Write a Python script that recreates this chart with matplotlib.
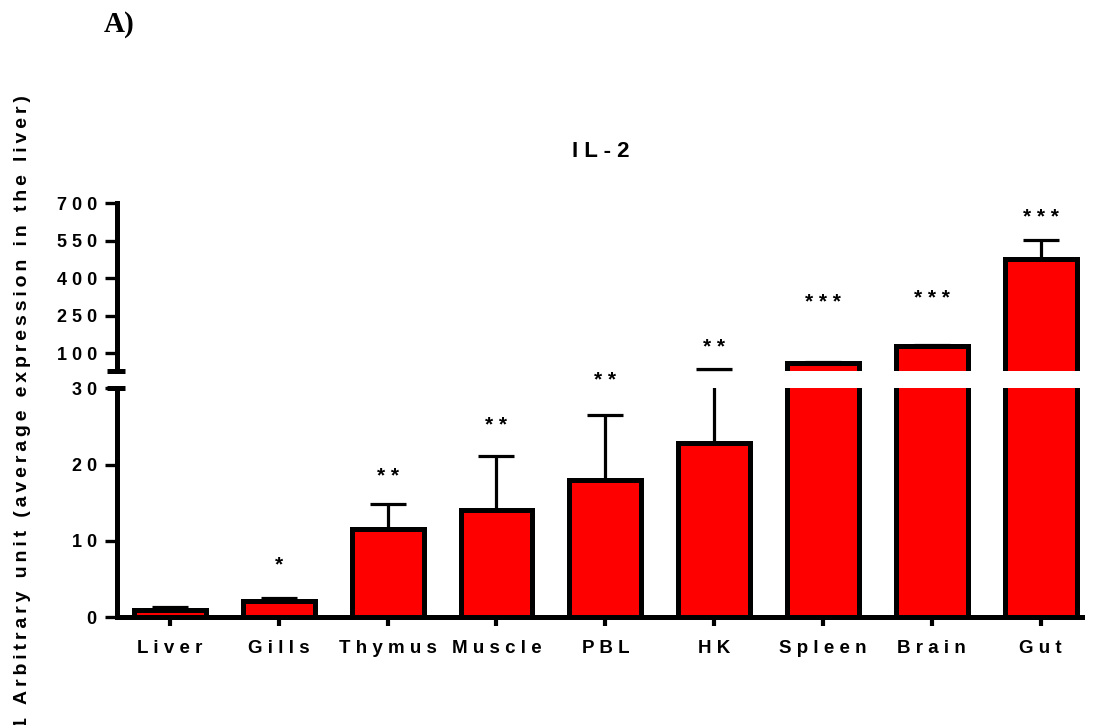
import numpy as np
import matplotlib.pyplot as plt

plt.rcParams['font.family'] = ['Liberation Sans', 'DejaVu Sans']
plt.rcParams['font.weight'] = 'bold'

# data (relative expression, IL-2)
tissues = ['Liver', 'Gills', 'Thymus', 'Muscle', 'PBL', 'HK', 'Spleen', 'Brain', 'Gut']
mean_expr = [1.0, 2.1, 11.6, 14.0, 18.0, 22.8, 63.0, 131.0, 475.0]
err_up = [0.4, 0.5, 3.2, 7.1, 8.5, 14.2, 2.0, 3.0, 78.0]
stars = ['', '*', '**', '**', '**', '**', '***', '***', '***']
star_y = [0, 7.8, 19.4, 26.0, 31.9, 150, 331, 347, 668]   # where the asterisks sit

low_ticks = [0, 10, 20, 30]
high_ticks = [100, 250, 400, 550, 700]
brk = 30   # axis break value


def spaced(s, sep=' '):
    return sep.join(s)


x = np.arange(len(tissues))
mean_arr = np.array(mean_expr)
err_arr = np.array(err_up)
lw = 3.6

fig = plt.figure(figsize=(10.95, 7.25), dpi=100)
ax_hi = fig.add_axes([0.1068, 0.4883, 0.881, 0.2317])
ax_lo = fig.add_axes([0.1068, 0.1483, 0.881, 0.3165])

for ax in (ax_lo, ax_hi):
    ax.bar(x, mean_expr, width=0.66, color='#ff0000', edgecolor='black',
           linewidth=lw, zorder=3)
    ax.set_xlim(-0.487, 8.376)
    ax.spines['top'].set_visible(False)
    ax.spines['right'].set_visible(False)
    ax.spines['left'].set_linewidth(lw)
    ax.spines['bottom'].set_linewidth(lw)
    ax.tick_params(axis='y', direction='out', length=8.5, width=2.4, pad=6, labelsize=13)

# error bars (upper side only), each drawn in the panel(s) where it is visible
lo = mean_arr < brk
hi = mean_arr + err_arr > brk
ax_lo.errorbar(x[lo], mean_arr[lo], yerr=[np.zeros(lo.sum()), err_arr[lo]], fmt='none',
               ecolor='black', elinewidth=2.3, capsize=13, capthick=2.3, zorder=2)
ax_hi.errorbar(x[hi], mean_arr[hi], yerr=[np.zeros(hi.sum()), err_arr[hi]], fmt='none',
               ecolor='black', elinewidth=2.3, capsize=13, capthick=2.3, zorder=2)

ax_lo.set_ylim(0, brk)
ax_lo.set_yticks(low_ticks)
ax_lo.set_yticklabels([spaced(str(t)) for t in low_ticks])
ax_lo.set_xticks(x)
ax_lo.set_xticklabels([spaced(t) for t in tissues], fontsize=13.5)
ax_lo.tick_params(axis='x', direction='out', length=6.5, width=3, pad=10)

ax_hi.set_ylim(brk, 700)
ax_hi.set_yticks(high_ticks)
ax_hi.set_yticklabels([spaced(str(t)) for t in high_ticks])
ax_hi.spines['bottom'].set_visible(False)
ax_hi.set_xticks([])

# break marks on the y axis
ax_hi.plot([-0.0104, 0.0083], [0, 0], color='black', lw=lw, transform=ax_hi.transAxes,
           clip_on=False, solid_capstyle='butt')
ax_lo.plot([-0.0104, 0.0083], [1, 1], color='black', lw=lw, transform=ax_lo.transAxes,
           clip_on=False, solid_capstyle='butt')

for xi, s, sy in zip(x, stars, star_y):
    if not s:
        continue
    ax = ax_lo if sy <= 35 else ax_hi
    ax.annotate(spaced(s), (xi, sy), xytext=(0, -5), textcoords='offset points',
                ha='center', va='center', fontsize=15, fontweight='bold',
                annotation_clip=False)

fig.text(0.549, 0.791, spaced('IL-2'), ha='center', va='center', fontsize=16,
         fontweight='bold')
fig.text(0.021, 1 - 95 / 725,
         spaced('1 Arbitrary unit (average expression in the liver)', '\u2009'),
         rotation=90, ha='center', va='top', fontsize=14, fontweight='bold')
fig.text(0.095, 0.966, 'A)', ha='left', va='center', fontsize=21, fontweight='bold',
         family=['Liberation Serif', 'DejaVu Serif'])

fig.savefig('out.png', dpi=100)
